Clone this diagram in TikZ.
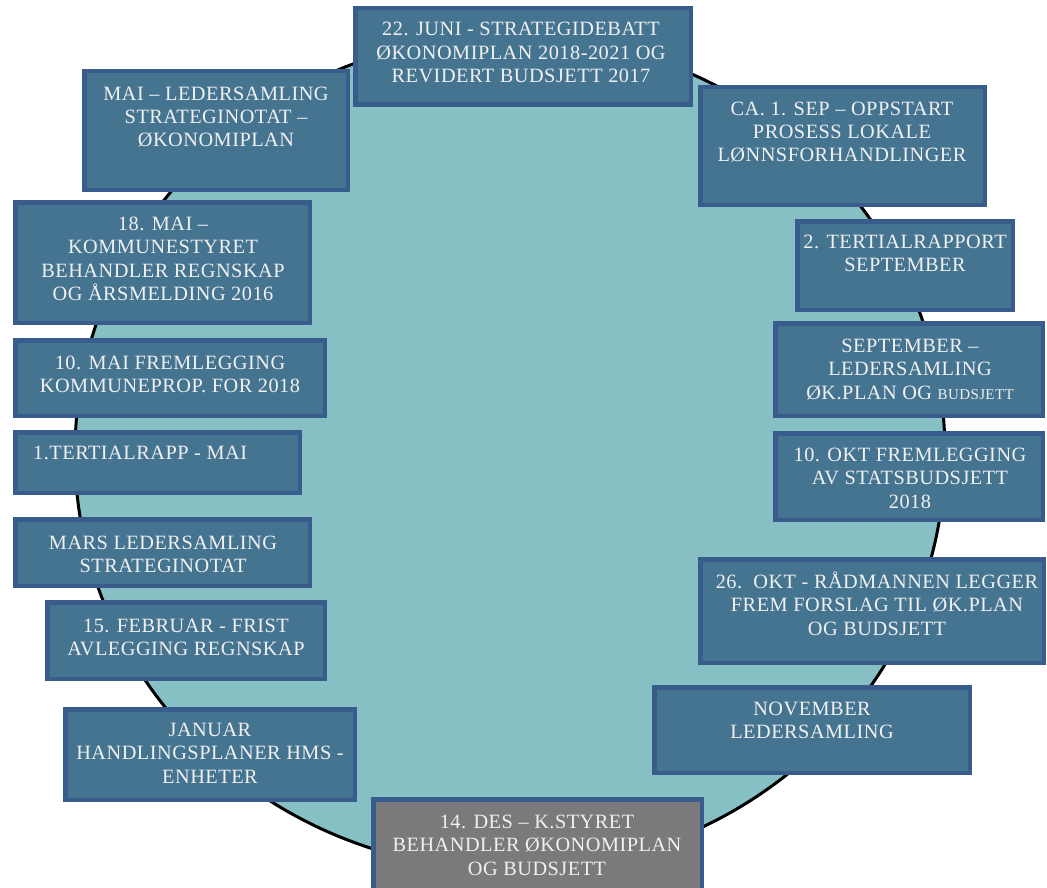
\documentclass[tikz,border=0pt]{standalone}
\usepackage{fontspec}
\setmainfont{Liberation Serif}[LetterSpace=2.5]
\definecolor{teal1}{RGB}{134,191,196}
\definecolor{boxfill}{RGB}{69,116,145}
\definecolor{boxedge}{RGB}{56,93,140}
\definecolor{greyfill}{RGB}{122,122,124}
\definecolor{txt}{RGB}{240,240,240}
\tikzset{
  yearring/.style={draw=black, line width=3pt, fill=teal1},
  evbox/.style={draw=boxedge, line width=4.5pt, fill=boxfill, rectangle, inner sep=0pt, outer sep=0pt},
  greybox/.style={evbox, fill=greyfill},
  lbl/.style={text=txt, align=center, anchor=base, inner sep=0pt, font=\fontsize{20.3}{23.5}\selectfont},
}
\begin{document}
\begin{tikzpicture}[x=1pt,y=-1pt]
\useasboundingbox (0,0) rectangle (1047,888);
\clip (0,0) rectangle (1047,888);
\draw[yearring] (510,453) ellipse [x radius=435pt, y radius=417pt];
% boxes
\node[evbox, minimum width=335.5pt, minimum height=96.5pt] (b1) at (523,56.5) {};
\node[evbox, minimum width=263.5pt, minimum height=118.5pt] (b2) at (216,130.5) {};
\node[evbox, minimum width=284.5pt, minimum height=117.5pt] (b3) at (842.5,146) {};
\node[evbox, minimum width=294.5pt, minimum height=120.5pt] (b4) at (162.5,262.5) {};
\node[evbox, minimum width=215.5pt, minimum height=88.5pt] (b5) at (905,265.5) {};
\node[evbox, minimum width=267.5pt, minimum height=92.5pt] (b6) at (909,369.5) {};
\node[evbox, minimum width=309.5pt, minimum height=75.5pt] (b7) at (170,378) {};
\node[evbox, minimum width=284.5pt, minimum height=60.5pt] (b8) at (157.5,462.5) {};
\node[evbox, minimum width=267.5pt, minimum height=86.5pt] (b9) at (909,476.5) {};
\node[evbox, minimum width=294.5pt, minimum height=66.5pt] (b10) at (162.5,552.5) {};
\node[evbox, minimum width=343.5pt, minimum height=103.5pt] (b11) at (872,611) {};
\node[evbox, minimum width=277.5pt, minimum height=76.5pt] (b12) at (186,640.5) {};
\node[evbox, minimum width=315.5pt, minimum height=85.5pt] (b13) at (812,730) {};
\node[evbox, minimum width=289.5pt, minimum height=90.5pt] (b14) at (210,754.5) {};
\node[greybox, minimum width=328.5pt, minimum height=98.5pt] (b15) at (537.5,848.5) {};
% labels (anchor = baseline of the last line)
\node[lbl] (t1) at (521,83) {22. JUNI - STRATEGIDEBATT\\ØKONOMIPLAN 2018-2021 OG\\REVIDERT BUDSJETT 2017};
\node[lbl] (t2) at (216,147) {MAI – LEDERSAMLING\\STRATEGINOTAT –\\ØKONOMIPLAN};
\node[lbl] (t3) at (842,162) {CA. 1. SEP – OPPSTART\\PROSESS LOKALE\\LØNNSFORHANDLINGER};
\node[lbl] (t4) at (163,300.5) {18. MAI –\\KOMMUNESTYRET\\BEHANDLER REGNSKAP\\OG ÅRSMELDING 2016};
\node[lbl] (t5) at (905,271.5) {2. TERTIALRAPPORT\\SEPTEMBER};
\node[lbl] (t6) at (910,399) {SEPTEMBER –\\LEDERSAMLING\\ØK.PLAN OG {\fontsize{15}{23.5}\selectfont BUDSJETT}};
\node[lbl] (t7) at (170,392.5) {10. MAI FREMLEGGING\\KOMMUNEPROP. FOR 2018};
\node[lbl, anchor=base west] (t8) at (33,459) {1.TERTIALRAPP - MAI};
\node[lbl] (t9) at (910,508) {10. OKT FREMLEGGING\\AV STATSBUDSJETT\\2018};
\node[lbl] (t10) at (163,572.5) {MARS LEDERSAMLING\\STRATEGINOTAT};
\node[lbl] (t11) at (877,635) {26.\ \ OKT - RÅDMANNEN LEGGER\\FREM FORSLAG TIL ØK.PLAN\\OG BUDSJETT};
\node[lbl] (t12) at (186,655.5) {15. FEBRUAR - FRIST\\AVLEGGING REGNSKAP};
\node[lbl] (t13) at (812,738.5) {NOVEMBER\\LEDERSAMLING};
\node[lbl] (t14) at (210,783) {JANUAR\\HANDLINGSPLANER HMS -\\ENHETER};
\node[lbl] (t15) at (537,875) {14. DES – K.STYRET\\BEHANDLER ØKONOMIPLAN\\OG BUDSJETT};
\end{tikzpicture}
\end{document}
